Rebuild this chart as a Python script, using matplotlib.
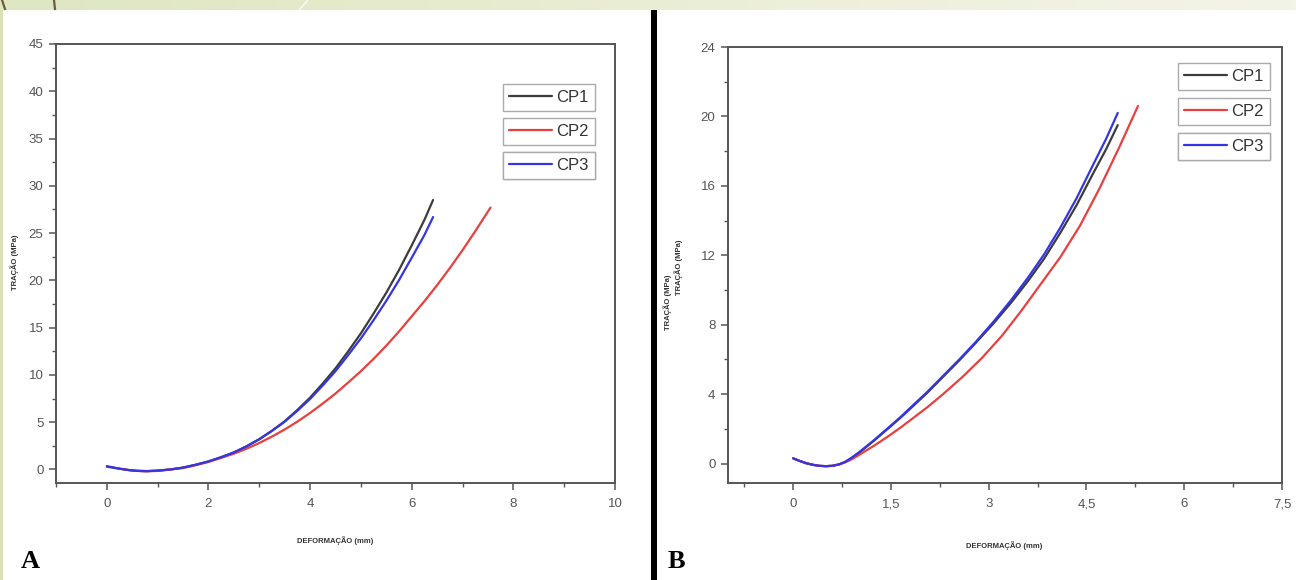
import matplotlib
matplotlib.use("Agg")
import numpy as np
import matplotlib.pyplot as plt
from matplotlib.ticker import MultipleLocator, FuncFormatter
from matplotlib.lines import Line2D
from matplotlib.patches import Rectangle
from matplotlib.colors import LinearSegmentedColormap

# ---- data: panel A (deformação in mm, tração in MPa) ----
def_cp1_a = [0.0, 0.2, 0.4, 0.6, 0.8, 1.0, 1.25, 1.5, 1.75, 2.0, 2.25, 2.5, 2.75, 3.0, 3.25, 3.5,
             3.75, 4.0, 4.25, 4.5, 4.75, 5.0, 5.25, 5.5, 5.75, 6.0, 6.25, 6.42]
tra_cp1_a = [0.3, 0.12, -0.05, -0.15, -0.17, -0.12, 0.0, 0.2, 0.5, 0.85, 1.3, 1.8, 2.45, 3.2, 4.1, 5.1,
             6.3, 7.6, 9.1, 10.7, 12.5, 14.4, 16.5, 18.7, 21.1, 23.7, 26.4, 28.5]
def_cp2_a = [0.3, 0.5, 0.75, 1.0, 1.25, 1.5, 1.75, 2.0, 2.25, 2.5, 2.75, 3.0, 3.25, 3.5, 3.75, 4.0,
             4.25, 4.5, 4.75, 5.0, 5.25, 5.5, 5.75, 6.0, 6.25, 6.5, 6.75, 7.0, 7.25, 7.55]
tra_cp2_a = [0.05, -0.1, -0.2, -0.15, 0.0, 0.15, 0.45, 0.8, 1.22, 1.67, 2.2, 2.8, 3.48, 4.23, 5.06, 5.98,
             6.98, 8.03, 9.2, 10.4, 11.7, 13.1, 14.6, 16.2, 17.8, 19.5, 21.3, 23.2, 25.2, 27.7]
def_cp3_a = [0.0, 0.2, 0.4, 0.6, 0.8, 1.0, 1.25, 1.5, 1.75, 2.0, 2.25, 2.5, 2.75, 3.0, 3.25, 3.5,
             3.75, 4.0, 4.25, 4.5, 4.75, 5.0, 5.25, 5.5, 5.75, 6.0, 6.25, 6.42]
tra_cp3_a = [0.35, 0.14, -0.04, -0.15, -0.17, -0.12, 0.0, 0.2, 0.5, 0.85, 1.3, 1.8, 2.45, 3.2, 4.08, 5.05,
             6.21, 7.46, 8.89, 10.4, 12.1, 13.87, 15.8, 17.84, 20.03, 22.4, 24.8, 26.7]

# ---- data: panel B ----
def_cp1_b = [0.0, 0.1, 0.2, 0.3, 0.4, 0.5, 0.6, 0.7, 0.8, 0.9, 1.0, 1.08, 1.25, 1.45, 1.65, 1.85, 2.05,
             2.3, 2.55, 2.8, 3.08, 3.35, 3.6, 3.85, 4.1, 4.35, 4.6, 4.8, 4.98]
tra_cp1_b = [0.3, 0.15, 0.02, -0.07, -0.13, -0.15, -0.13, -0.05, 0.1, 0.33, 0.6, 0.83, 1.35, 2.0, 2.65,
             3.35, 4.05, 5.0, 5.95, 6.95, 8.1, 9.3, 10.5, 11.8, 13.3, 14.9, 16.7, 18.1, 19.5]
def_cp2_b = [0.0, 0.1, 0.2, 0.3, 0.4, 0.5, 0.6, 0.7, 0.8, 0.9, 1.0, 1.08, 1.25, 1.45, 1.65, 1.85, 2.05,
             2.3, 2.6, 2.9, 3.2, 3.5, 3.8, 4.1, 4.4, 4.7, 5.0, 5.29]
tra_cp2_b = [0.3, 0.15, 0.02, -0.07, -0.13, -0.15, -0.13, -0.06, 0.07, 0.25, 0.47, 0.66, 1.05, 1.55,
             2.08, 2.65, 3.22, 4.0, 5.0, 6.1, 7.35, 8.8, 10.35, 11.9, 13.7, 15.85, 18.2, 20.6]
def_cp3_b = [0.0, 0.1, 0.2, 0.3, 0.4, 0.5, 0.6, 0.7, 0.8, 0.9, 1.0, 1.08, 1.25, 1.45, 1.65, 1.85, 2.05,
             2.3, 2.55, 2.8, 3.08, 3.35, 3.6, 3.85, 4.1, 4.35, 4.6, 4.8, 4.98]
tra_cp3_b = [0.3, 0.15, 0.02, -0.07, -0.13, -0.15, -0.13, -0.05, 0.1, 0.34, 0.62, 0.86, 1.38, 2.03, 2.69,
             3.4, 4.1, 5.05, 6.0, 7.0, 8.2, 9.45, 10.7, 12.05, 13.6, 15.3, 17.2, 18.7, 20.2]

series_names = ["CP1", "CP2", "CP3"]
series_colors = ["#3c3c3c", "#e8403f", "#3535e6"]

x_label = "DEFORMAÇÃO (mm)"
y_label = "TRAÇÃO (MPa)"

W, H = 1296, 580
fig = plt.figure(figsize=(W / 100, H / 100), dpi=100)
fig.patch.set_facecolor("white")


def fx(px):
    return px / W


def fy(py):
    return 1 - py / H


# slide decoration: top band, left strip, separator bar
band = fig.add_axes([0, fy(10), 1, 10 / H])
band.axis("off")
grad = np.linspace(0, 1, 256)[None, :]
cm = LinearSegmentedColormap.from_list("band", ["#dfe6c2", "#e6ebcd", "#eef0dc", "#f3f4e8"])
band.imshow(grad, aspect="auto", cmap=cm, extent=[0, 1, 0, 1])
band.set_xlim(0, 1)
band.set_ylim(0, 1)
fig.patches.append(Rectangle((0, 0), fx(3), fy(10), transform=fig.transFigure,
                             facecolor="#d8e2b4", edgecolor="none", zorder=0))
fig.lines.append(Line2D([fx(2), fx(5)], [fy(0), fy(9)], transform=fig.transFigure,
                        color="#6b5e3a", lw=1.6))
fig.lines.append(Line2D([fx(54), fx(55)], [fy(0), fy(9)], transform=fig.transFigure,
                        color="#6b5e3a", lw=1.6))
fig.lines.append(Line2D([fx(300), fx(308)], [fy(9), fy(0)], transform=fig.transFigure,
                        color="#f7f8ee", lw=1.2))
fig.patches.append(Rectangle((fx(651), 0), fx(6), fy(10), transform=fig.transFigure,
                             facecolor="black", edgecolor="none", zorder=5))

spine_col = "#555555"
tick_col = "#555555"


def style_axes(ax, xlim, ylim, xmaj, xmin, ymaj, ymin, xfmt):
    ax.set_xlim(*xlim)
    ax.set_ylim(*ylim)
    ax.xaxis.set_major_locator(MultipleLocator(xmaj))
    ax.xaxis.set_minor_locator(MultipleLocator(xmin))
    ax.yaxis.set_major_locator(MultipleLocator(ymaj))
    ax.yaxis.set_minor_locator(MultipleLocator(ymin))
    ax.xaxis.set_major_formatter(FuncFormatter(xfmt))
    ax.yaxis.set_major_formatter(FuncFormatter(lambda v, p: f"{v:g}"))
    for s in ax.spines.values():
        s.set_color(spine_col)
        s.set_linewidth(1.4)
    ax.tick_params(which="major", direction="out", length=5, width=1.1,
                   color=spine_col, labelcolor=tick_col, labelsize=9.5)
    ax.tick_params(which="minor", direction="out", length=3, width=1.0, color=spine_col)
    ax.tick_params(axis="x", which="major", pad=6)
    ax.tick_params(axis="y", which="major", pad=4)
    for lab in ax.get_xticklabels() + ax.get_yticklabels():
        lab.set_fontfamily("Liberation Sans")


def add_legends(ax, lines, left_px, tops_px):
    # one framed box per specimen
    for ln, top in zip(lines, tops_px):
        leg = ax.legend([ln], [ln.get_label()], loc="upper left",
                        bbox_to_anchor=(fx(left_px), fy(top)), bbox_transform=fig.transFigure,
                        borderaxespad=0, frameon=True, fancybox=False, framealpha=1,
                        edgecolor="#aaaaaa", handlelength=2.6, handletextpad=0.25,
                        borderpad=0.35, prop={"family": "Liberation Sans", "size": 12})
        leg.get_frame().set_linewidth(1.0)
        for t in leg.get_texts():
            t.set_color("#333333")
        ax.add_artist(leg)


label_font = {"family": "Liberation Sans", "size": 5.5, "weight": "bold", "color": "#333333"}

# ---- panel A ----
axA = fig.add_axes([fx(56), fy(483), fx(615 - 56), (483 - 44) / H])
linesA = []
for xs, ys, name, col in zip([def_cp1_a, def_cp2_a, def_cp3_a],
                             [tra_cp1_a, tra_cp2_a, tra_cp3_a],
                             series_names, series_colors):
    ln, = axA.plot(xs, ys, color=col, lw=1.6, label=name,
                   solid_capstyle="round", solid_joinstyle="round")
    linesA.append(ln)
style_axes(axA, (-1, 10), (-1.43, 45), 2, 1, 5, 2.5, lambda v, p: f"{v:g}")
add_legends(axA, linesA, 503, [84, 118, 152])
fig.text(fx(335), fy(541), x_label, ha="center", va="center", **label_font)
fig.text(fx(15), fy(262), y_label, ha="center", va="center", rotation=90, **label_font)
fig.text(fx(21), fy(561), "A", ha="left", va="center", family="Liberation Serif",
         weight="bold", size=19, color="black")

# ---- panel B ----
axB = fig.add_axes([fx(728), fy(483), fx(1282 - 728), (483 - 47) / H])
linesB = []
for xs, ys, name, col in zip([def_cp1_b, def_cp2_b, def_cp3_b],
                             [tra_cp1_b, tra_cp2_b, tra_cp3_b],
                             series_names, series_colors):
    ln, = axB.plot(xs, ys, color=col, lw=1.6, label=name,
                   solid_capstyle="round", solid_joinstyle="round")
    linesB.append(ln)
style_axes(axB, (-1, 7.5), (-1.12, 24), 1.5, 0.75, 4, 2,
           lambda v, p: f"{v:g}".replace(".", ","))
add_legends(axB, linesB, 1178, [63, 98, 133])
fig.text(fx(1004), fy(546), x_label, ha="center", va="center", **label_font)
fig.text(fx(679), fy(267), y_label, ha="center", va="center", rotation=90, **label_font)
fig.text(fx(668), fy(302), y_label, ha="center", va="center", rotation=90, **label_font)
fig.text(fx(668), fy(561), "B", ha="left", va="center", family="Liberation Serif",
         weight="bold", size=19, color="black")

fig.savefig("out.png", dpi=100, facecolor="white")
